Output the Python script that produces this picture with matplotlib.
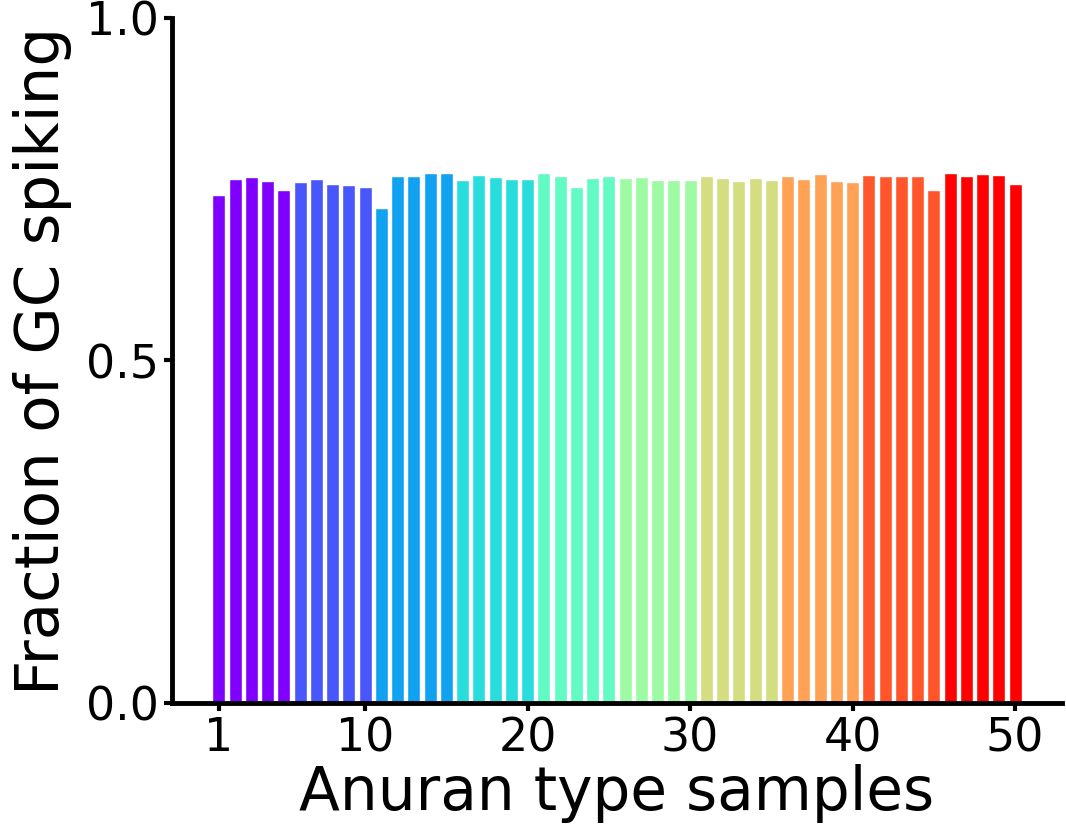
import numpy as np
import matplotlib
matplotlib.use('Agg')
import matplotlib.pyplot as plt

# fraction of GC spiking per sample
samples = np.arange(1, 51)
fractions = [0.742, 0.765, 0.768, 0.762, 0.749, 0.761, 0.765, 0.758, 0.756, 0.753,
             0.722, 0.770, 0.770, 0.774, 0.774, 0.764, 0.771, 0.768, 0.765, 0.765,
             0.774, 0.769, 0.754, 0.767, 0.770, 0.767, 0.768, 0.764, 0.764, 0.764,
             0.769, 0.767, 0.762, 0.766, 0.764, 0.770, 0.765, 0.772, 0.762, 0.761,
             0.771, 0.769, 0.770, 0.770, 0.749, 0.773, 0.770, 0.772, 0.771, 0.758]
xticks = [1, 10, 20, 30, 40, 50]
yticks = [0.0, 0.5, 1.0]

# 10 colour groups of 5 samples each
group_colors = plt.cm.rainbow(np.linspace(0, 1, 10))
colors = np.repeat(group_colors, 5, axis=0)

fig = plt.figure(figsize=(10.66, 8.3), dpi=100)
ax = fig.add_axes([172 / 1066, 1 - 703 / 830, 890 / 1066, 685 / 830])
ax.bar(samples, fractions, width=0.8, color=colors, edgecolor='white', linewidth=1)

ax.set_ylim(0, 1.0)
ax.set_xticks(xticks)
ax.set_yticks(yticks)
ax.set_yticklabels(['0.0', '0.5', '1.0'])
ax.tick_params(labelsize=33, width=3, length=6)
ax.set_xlabel('Anuran type samples', fontsize=43, labelpad=2)
ax.set_ylabel('Fraction of GC spiking', fontsize=44, labelpad=10)

ax.spines['top'].set_visible(False)
ax.spines['right'].set_visible(False)
ax.spines['left'].set_linewidth(3.5)
ax.spines['bottom'].set_linewidth(3.5)

plt.savefig('out.png', dpi=100)
plt.close()
